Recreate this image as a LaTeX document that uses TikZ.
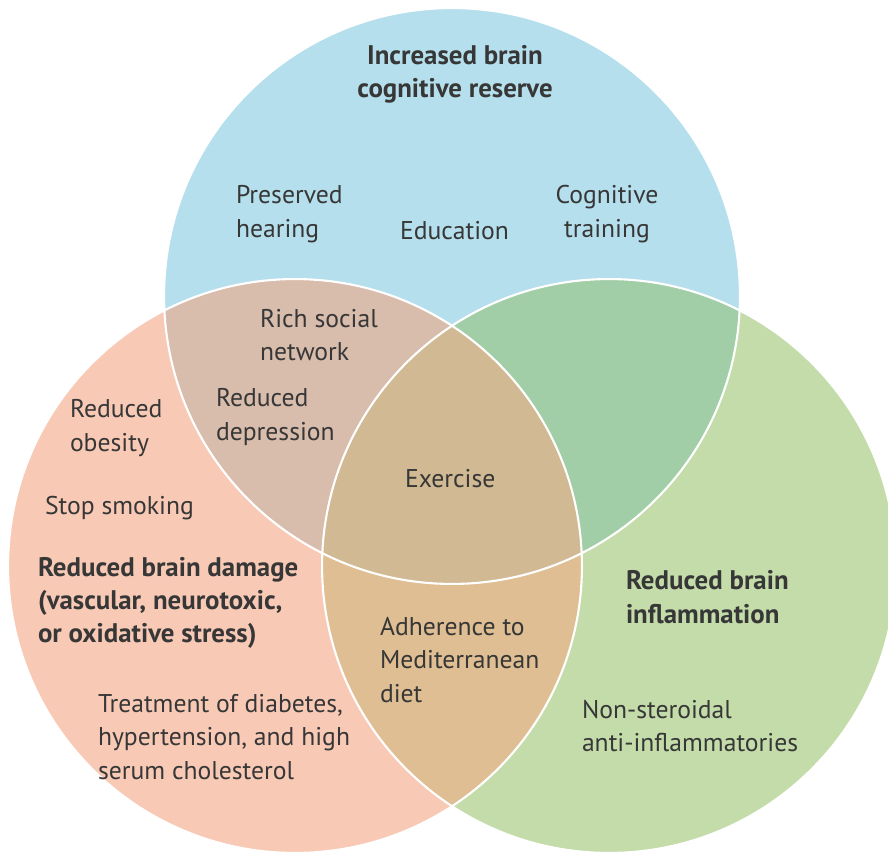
\documentclass[tikz,border=0pt]{standalone}
\usepackage{fontspec}
\setmainfont{PT Sans}
\definecolor{reserveblue}{RGB}{181,223,236}
\definecolor{damagesalmon}{RGB}{248,202,182}
\definecolor{inflamgreen}{RGB}{196,220,170}
\definecolor{bluesalmon}{RGB}{216,188,172}
\definecolor{bluegreen}{RGB}{161,206,166}
\definecolor{salmongreen}{RGB}{222,190,146}
\definecolor{allthree}{RGB}{209,185,148}
\definecolor{textgray}{RGB}{55,55,55}
\begin{document}
\begin{tikzpicture}[x=0.02cm, y=-0.02cm, outer sep=0pt]

\tikzstyle{txt}=[inner sep=0pt, text=textgray, font=\fontsize{14.6}{19}\selectfont, align=left, anchor=west]
\tikzstyle{headtxt}=[txt, font=\fontsize{15.3}{19}\selectfont\bfseries]
\tikzstyle{rim}=[draw=white, line width=1.2pt]

\useasboundingbox (0,0) rectangle (888,854);

\coordinate (ctop) at (452,296);
\coordinate (cleft) at (295,566);
\coordinate (cright) at (609,566);
\def\rtop{5.76cm}
\def\rside{5.74cm}

% the three circles and their overlaps
\begin{scope}
\clip (0,0) rectangle (888,854);
\fill[reserveblue] (ctop) circle[radius=\rtop];
\fill[damagesalmon] (cleft) circle[radius=\rside];
\fill[inflamgreen] (cright) circle[radius=\rside];
\begin{scope}
\clip (ctop) circle[radius=\rtop];
\fill[bluesalmon] (cleft) circle[radius=\rside];
\fill[bluegreen] (cright) circle[radius=\rside];
\end{scope}
\begin{scope}
\clip (cleft) circle[radius=\rside];
\fill[salmongreen] (cright) circle[radius=\rside];
\clip (cright) circle[radius=\rside];
\fill[allthree] (ctop) circle[radius=\rtop];
\end{scope}
\draw[rim] (ctop) circle[radius=\rtop];
\draw[rim] (cleft) circle[radius=\rside];
\draw[rim] (cright) circle[radius=\rside];
\end{scope}

% top circle
\node[headtxt, anchor=center, align=center] (reserve) at (455,74) {Increased brain\\cognitive reserve};
\node[txt] (hearing) at (236,214) {Preserved\\hearing};
\node[txt] (education) at (400,231) {Education};
\node[txt, anchor=center, align=center] (training) at (607,214) {Cognitive\\training};

% top and left
\node[txt] (social) at (260,335) {Rich social\\network};
\node[txt] (depression) at (216,417) {Reduced\\depression};

% left circle
\node[txt] (obesity) at (70,428) {Reduced\\obesity};
\node[txt] (smoking) at (45,508) {Stop smoking};
\node[headtxt] (damage) at (38,603) {Reduced brain damage\\(vascular, neurotoxic,\\or oxidative stress)};
\node[txt] (treatment) at (98,737) {Treatment of diabetes,\\hypertension, and high\\serum cholesterol};

% centre and bottom
\node[txt] (exercise) at (405,479) {Exercise};
\node[txt] (diet) at (380,660) {Adherence to\\Mediterranean\\diet};

% right circle
\node[headtxt] (inflammation) at (626,597) {Reduced brain\\inflammation};
\node[txt] (nsaid) at (582,726) {Non-steroidal\\anti-inflammatories};

\end{tikzpicture}
\end{document}
